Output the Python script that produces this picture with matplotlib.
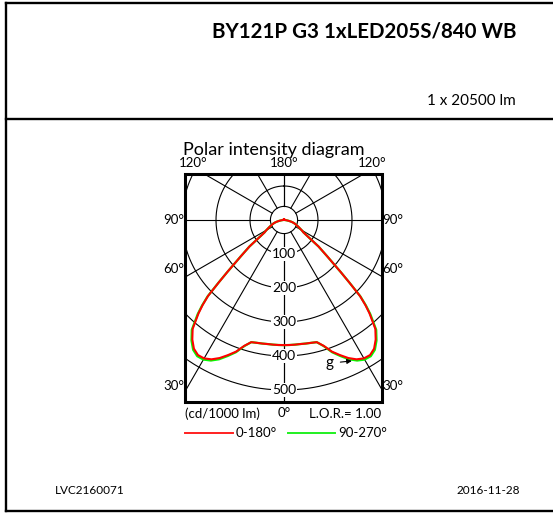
import matplotlib

matplotlib.use('Agg')  # no display in the sandbox
import matplotlib.pyplot as plt
import numpy as np
from matplotlib.patches import Rectangle
from matplotlib.lines import Line2D

plt.rcParams['font.family'] = ['Lato', 'DejaVu Sans']

W, H = 553, 513  # figure size in pixels

# Luminous intensity (cd/1000 lm) against gamma (deg)
GAMMA = [0, 2.5, 5, 7.5, 10, 12.5, 15, 17.5, 20, 22.5, 25, 27.5, 30, 32.5,
         35, 37.5, 40, 42.5, 43.75, 45, 46.25, 47.5, 50, 52.5, 55, 57.5, 60,
         62.5, 65, 67.5, 70, 72.5, 75, 77.5, 80, 82.5, 85, 87.5, 90, 120, 150, 180]
I_C0_180 = [368, 368, 368, 368, 369, 370, 372, 388, 412, 430, 448, 462, 470, 471,
            462, 443, 418, 372, 346, 316, 266, 225, 165, 128, 88, 68, 60,
            52, 46, 40, 36, 31, 26, 20, 14, 9, 6, 3, 2, 2, 2, 2]
I_C90_270 = [368, 368, 368, 368, 369, 370, 372, 389, 414, 433, 452, 466, 474, 475,
             466, 447, 422, 376, 349, 318, 267, 225, 165, 128, 88, 68, 60,
             52, 46, 40, 36, 31, 26, 20, 14, 9, 6, 3, 2, 2, 2, 2]

RINGS = [100, 200, 300, 400, 500]
SPOKES = [0, 30, 60, 90, 120, 150, 180]
INNER_RING = 40

TITLE = 'BY121P G3 1xLED205S/840 WB'
LUMEN = '1 x 20500 lm'
DOC_CODE = 'LVC2160071'
DOC_DATE = '2016-11-28'

# diagram geometry (pixels from top-left)
CX, CY = 284, 220
PX_PER_CD = 0.34
R_PX = 207
RMAX = R_PX / PX_PER_CD
BOX = (185, 174, 382, 402)  # left, top, right, bottom


def fx(px):
    return px / W


def fy(py):
    return 1 - py / H


fig = plt.figure(figsize=(W / 100, H / 100), dpi=100)

ax = fig.add_axes([fx(CX - R_PX), fy(CY + R_PX), 2 * R_PX / W, 2 * R_PX / H],
                  projection='polar')
ax.set_theta_zero_location('S')
ax.set_ylim(0, RMAX)
ax.set_axis_off()

# square frame the diagram is clipped to
box = Rectangle((fx(BOX[0]), fy(BOX[3])), (BOX[2] - BOX[0]) / W, (BOX[3] - BOX[1]) / H,
                transform=fig.transFigure, fill=False, ec='black', lw=2.2, zorder=10)
fig.add_artist(box)

grid = []
t = np.linspace(-np.pi, np.pi, 721)
for r in RINGS + [INNER_RING]:
    grid += ax.plot(t, np.full_like(t, r), color='black', lw=0.8, zorder=1)
for s in SPOKES:
    for sign in (1, -1):
        a = np.radians(sign * s)
        grid += ax.plot([a, a], [INNER_RING, RMAX], color='black', lw=0.8, zorder=1)
for ln in grid:
    ln.set_clip_path(box)

for r in RINGS:
    ax.text(0, r, str(r), ha='center', va='center', fontsize=10, zorder=3,
            bbox=dict(fc='white', ec='none', pad=0.6))

g = np.array(GAMMA)
theta = np.radians(np.concatenate([-g[::-1], g[1:]]))
for vals, col, lw in ((I_C90_270, '#00ff00', 1.6), (I_C0_180, '#ff0000', 1.5)):
    v = np.array(vals, dtype=float)
    rr = np.concatenate([v[::-1], v[1:]])
    ln, = ax.plot(theta, rr, color=col, lw=lw, zorder=4)
    ln.set_clip_path(box)

ax.annotate('g', xy=(np.radians(25.7), 460), xytext=(np.radians(17.6), 442),
            ha='center', va='center', fontsize=11, zorder=5,
            arrowprops=dict(arrowstyle='-|>', color='black', lw=0.8,
                            mutation_scale=7, shrinkA=3, shrinkB=0))

# page frame
for xs, ys in (([6, 6], [2.5, 511]), ([6, W], [2.5, 2.5]),
               ([6, W], [511, 511]), ([6, W], [119, 119])):
    fig.add_artist(Line2D([fx(v) for v in xs], [fy(v) for v in ys],
                          transform=fig.transFigure, color='black', lw=1.7))

fig.text(fx(516), fy(32), TITLE, ha='right', va='center', fontsize=14.8, fontweight='bold')
fig.text(fx(516), fy(101), LUMEN, ha='right', va='center', fontsize=11)
fig.text(fx(274), fy(150), 'Polar intensity diagram', ha='center', va='center', fontsize=13)

lab = dict(ha='center', va='center', fontsize=9.5)
fig.text(fx(193), fy(163), '120°', **lab)
fig.text(fx(284), fy(163), '180°', **lab)
fig.text(fx(372), fy(163), '120°', **lab)
for txt, yy in (('90°', 220), ('60°', 269), ('30°', 386)):
    fig.text(fx(174), fy(yy), txt, **lab)
    fig.text(fx(393), fy(yy), txt, **lab)

fig.text(fx(185), fy(414), '(cd/1000 lm)', ha='left', va='center', fontsize=9.5)
fig.text(fx(284), fy(413), '0°', **lab)
fig.text(fx(381), fy(414), 'L.O.R.= 1.00', ha='right', va='center', fontsize=9.5)

fig.add_artist(Line2D([fx(185), fx(233)], [fy(433), fy(433)], transform=fig.transFigure,
                      color='#ff2020', lw=1.4))
fig.text(fx(236), fy(433), '0-180°', ha='left', va='center', fontsize=9.5)
fig.add_artist(Line2D([fx(288), fx(335)], [fy(433), fy(433)], transform=fig.transFigure,
                      color='#20f020', lw=1.4))
fig.text(fx(338), fy(433), '90-270°', ha='left', va='center', fontsize=9.5)

fig.text(fx(55), fy(491), DOC_CODE, ha='left', va='center', fontsize=8.5)
fig.text(fx(520), fy(491), DOC_DATE, ha='right', va='center', fontsize=8.5)

fig.savefig('out.png', dpi=100)
